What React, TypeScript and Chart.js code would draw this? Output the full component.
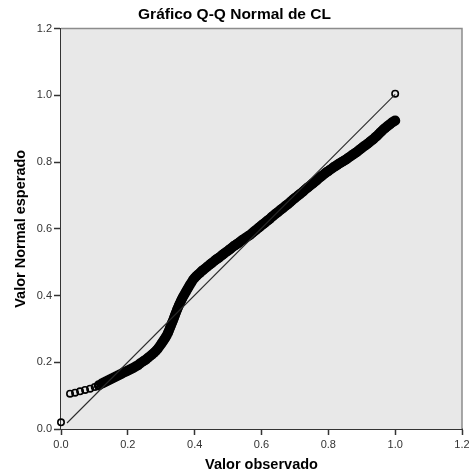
import React, { useEffect, useRef } from "react";
import { Chart, registerables } from "chart.js";

Chart.register(...registerables);

const TITLE = "Gráfico Q-Q Normal de CL";
const X_TITLE = "Valor observado";
const Y_TITLE = "Valor Normal esperado";
const AXIS_MIN = 0;
const AXIS_MAX = 1.2;
const AXIS_STEP = 0.2;

// [valor observado, valor normal esperado]
const QQ_POINTS: [number, number][] = [
  [0.000, 0.020],
  [0.027, 0.106], [0.042, 0.109], [0.057, 0.113], [0.072, 0.117], [0.087, 0.121],
  [0.101, 0.126], [0.113, 0.131],
  [0.122, 0.136], [0.128, 0.139], [0.134, 0.142], [0.140, 0.145], [0.146, 0.148],
  [0.152, 0.151], [0.158, 0.154], [0.164, 0.157], [0.170, 0.160], [0.176, 0.163],
  [0.182, 0.166], [0.188, 0.170], [0.194, 0.172], [0.200, 0.175], [0.206, 0.178],
  [0.212, 0.181], [0.218, 0.184], [0.224, 0.188], [0.230, 0.191], [0.236, 0.196],
  [0.242, 0.200], [0.248, 0.204], [0.254, 0.208], [0.260, 0.213], [0.266, 0.218],
  [0.272, 0.223], [0.278, 0.228], [0.284, 0.234], [0.290, 0.241], [0.295, 0.248],
  [0.300, 0.255],
  [0.304, 0.261], [0.308, 0.267], [0.312, 0.273], [0.316, 0.280], [0.320, 0.288],
  [0.323, 0.295], [0.326, 0.303], [0.329, 0.310], [0.332, 0.318], [0.335, 0.325],
  [0.338, 0.333], [0.341, 0.341], [0.344, 0.349], [0.347, 0.357], [0.350, 0.364],
  [0.353, 0.371], [0.356, 0.377], [0.359, 0.384], [0.362, 0.390], [0.365, 0.396],
  [0.369, 0.403], [0.373, 0.410], [0.377, 0.417], [0.381, 0.424], [0.385, 0.431],
  [0.390, 0.439], [0.395, 0.447],
  [0.400, 0.453], [0.405, 0.458], [0.410, 0.463], [0.416, 0.468], [0.421, 0.473],
  [0.426, 0.477], [0.431, 0.481], [0.437, 0.486], [0.442, 0.490], [0.447, 0.494],
  [0.452, 0.498], [0.457, 0.502], [0.462, 0.506], [0.467, 0.510], [0.472, 0.513],
  [0.477, 0.517], [0.482, 0.521], [0.487, 0.525], [0.492, 0.529], [0.497, 0.532],
  [0.502, 0.536], [0.507, 0.540], [0.512, 0.544], [0.517, 0.548], [0.522, 0.551],
  [0.527, 0.555], [0.532, 0.558], [0.537, 0.562], [0.542, 0.566], [0.548, 0.570],
  [0.554, 0.574], [0.560, 0.578], [0.566, 0.582],
  [0.572, 0.587], [0.578, 0.592], [0.584, 0.597], [0.590, 0.602], [0.595, 0.606],
  [0.600, 0.610], [0.605, 0.614], [0.610, 0.618], [0.615, 0.622], [0.620, 0.626],
  [0.625, 0.630], [0.630, 0.635], [0.635, 0.639], [0.640, 0.643], [0.645, 0.647],
  [0.650, 0.651], [0.655, 0.655], [0.660, 0.659], [0.665, 0.663], [0.670, 0.667],
  [0.675, 0.671], [0.680, 0.675], [0.685, 0.679], [0.690, 0.684], [0.695, 0.688],
  [0.700, 0.692], [0.705, 0.696], [0.710, 0.700], [0.715, 0.704], [0.720, 0.708],
  [0.725, 0.712], [0.730, 0.717], [0.735, 0.721], [0.740, 0.725], [0.745, 0.729],
  [0.750, 0.733], [0.755, 0.737], [0.760, 0.741], [0.765, 0.745], [0.770, 0.750],
  [0.775, 0.754], [0.780, 0.758], [0.785, 0.762], [0.790, 0.766], [0.795, 0.770],
  [0.800, 0.773], [0.805, 0.777],
  [0.810, 0.780], [0.815, 0.784], [0.820, 0.787], [0.825, 0.790], [0.830, 0.794],
  [0.835, 0.797], [0.840, 0.800], [0.845, 0.803], [0.850, 0.806], [0.855, 0.809],
  [0.860, 0.813], [0.865, 0.816], [0.870, 0.820], [0.875, 0.823], [0.880, 0.827],
  [0.885, 0.830], [0.890, 0.834], [0.895, 0.838], [0.900, 0.842], [0.905, 0.846],
  [0.910, 0.849], [0.915, 0.853], [0.920, 0.857], [0.925, 0.861], [0.930, 0.865],
  [0.935, 0.869], [0.940, 0.874], [0.945, 0.878], [0.950, 0.883], [0.955, 0.888],
  [0.960, 0.893], [0.965, 0.898], [0.970, 0.902], [0.975, 0.906], [0.980, 0.910],
  [0.985, 0.914], [0.990, 0.918], [0.995, 0.921], [1.000, 0.924],
  [1.000, 1.005],
];

// reference line endpoints
const REF_LINE: [number, number][] = [
  [0.018, 0.018],
  [1.0, 1.003],
];

const FONT = "'Liberation Sans', Arial, Helvetica, sans-serif";

// a point is "isolated" when both data neighbours are far apart (open ring look)
function isIsolated(i: number): boolean {
  const d = (a: number, b: number) => {
    if (b < 0 || b >= QQ_POINTS.length) return Infinity;
    const dx = QQ_POINTS[a][0] - QQ_POINTS[b][0];
    const dy = QQ_POINTS[a][1] - QQ_POINTS[b][1];
    return Math.sqrt(dx * dx + dy * dy);
  };
  return Math.min(d(i, i - 1), d(i, i + 1)) > 0.0105;
}

const plotFrame = {
  id: "plotFrame",
  beforeDatasetsDraw(chart: any) {
    const { ctx, chartArea } = chart;
    const { left, top, right, bottom } = chartArea;
    ctx.save();
    ctx.fillStyle = "#e8e8e8";
    ctx.fillRect(left, top, right - left, bottom - top);
    ctx.strokeStyle = "#8c8c8c";
    ctx.lineWidth = 1.5;
    ctx.beginPath();
    ctx.moveTo(left, top);
    ctx.lineTo(right, top);
    ctx.lineTo(right, bottom);
    ctx.stroke();
    ctx.restore();
  },
};

export default function App() {
  const ref = useRef<HTMLCanvasElement | null>(null);

  useEffect(() => {
    document.body.style.margin = "0";
    const canvas = ref.current;
    if (!canvas) return;

    const tickCb = (v: any) => Number(v).toFixed(1);

    const chart = new Chart(canvas, {
      type: "scatter",
      data: {
        datasets: [
          {
            type: "line",
            data: REF_LINE.map(([x, y]) => ({ x, y })),
            borderColor: "#2a2a2a",
            borderWidth: 1.1,
            pointRadius: 0,
            fill: false,
            clip: false,
          } as any,
          {
            type: "scatter",
            data: QQ_POINTS.map(([x, y]) => ({ x, y })),
            pointStyle: "circle",
            pointRadius: (c: any) => (isIsolated(c.dataIndex) ? 3.2 : 3.6),
            pointBorderWidth: (c: any) => (isIsolated(c.dataIndex) ? 1.6 : 3),
            borderColor: "#000000",
            backgroundColor: "rgba(0,0,0,0)",
            pointBackgroundColor: "rgba(0,0,0,0)",
            clip: false,
          } as any,
        ],
      },
      options: {
        responsive: false,
        animation: false,
        events: [],
        layout: { padding: { left: 0, right: 0, top: 0, bottom: 0 } },
        plugins: {
          legend: { display: false },
          tooltip: { enabled: false },
          title: {
            display: true,
            text: TITLE,
            color: "#000",
            font: { family: FONT, size: 15.5, weight: "bold" },
            padding: { top: 5, bottom: 5 },
          },
        },
        scales: {
          x: {
            type: "linear",
            min: AXIS_MIN,
            max: AXIS_MAX,
            ticks: {
              stepSize: AXIS_STEP,
              callback: tickCb,
              color: "#333",
              font: { family: FONT, size: 11 },
              padding: 3,
              maxRotation: 0,
            },
            grid: {
              drawOnChartArea: false,
              drawTicks: true,
              tickLength: 6,
              tickColor: "#333",
              tickWidth: 1.5,
            },
            border: { color: "#333", width: 2 },
            title: {
              display: true,
              text: X_TITLE,
              color: "#000",
              font: { family: FONT, size: 14.5, weight: "bold" },
              padding: { top: 0, bottom: 0 },
            },
            afterFit: (s: any) => {
              s.height = 45;
              s.paddingRight = 7;
            },
          },
          y: {
            type: "linear",
            min: AXIS_MIN,
            max: AXIS_MAX,
            ticks: {
              stepSize: AXIS_STEP,
              callback: tickCb,
              color: "#333",
              font: { family: FONT, size: 11 },
              padding: 2,
            },
            grid: {
              drawOnChartArea: false,
              drawTicks: true,
              tickLength: 7,
              tickColor: "#333",
              tickWidth: 1.5,
            },
            border: { color: "#333", width: 2 },
            title: {
              display: true,
              text: Y_TITLE,
              color: "#000",
              font: { family: FONT, size: 14.5, weight: "bold" },
              padding: { top: 12, bottom: 0 },
            },
            afterFit: (s: any) => {
              s.width = 61;
            },
          },
        },
      },
      plugins: [plotFrame],
    });

    return () => chart.destroy();
  }, []);

  return (
    <div style={{ width: 469, height: 474 }}>
      <canvas ref={ref} width={469} height={474} />
    </div>
  );
}
